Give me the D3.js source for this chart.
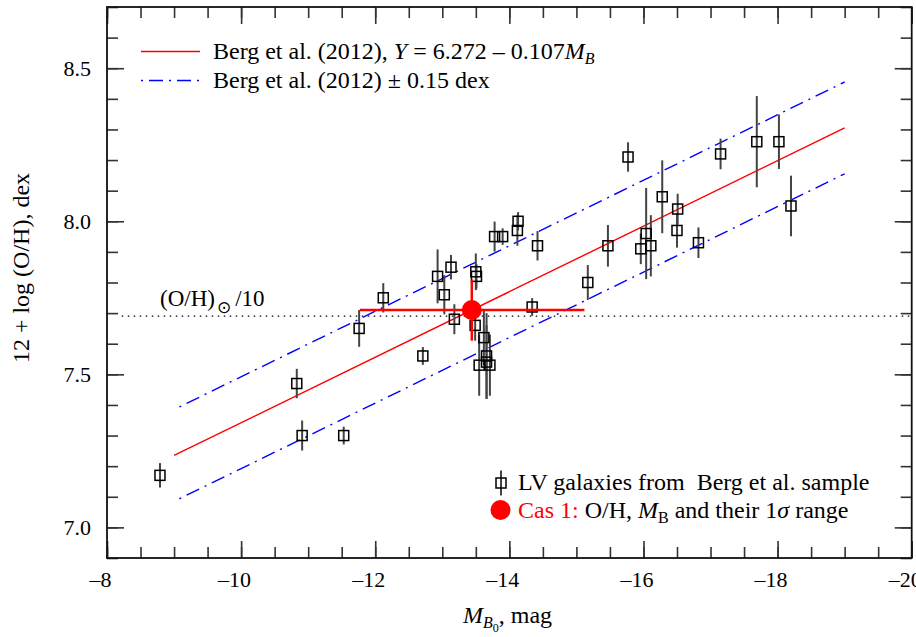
<!DOCTYPE html>
<html>
<head>
<meta charset="utf-8">
<script src="https://cdn.jsdelivr.net/npm/d3@7"></script>
<style>
  html, body { margin: 0; padding: 0; background: #fff; }
  svg { display: block; }
</style>
</head>
<body>
<svg id="chart" width="916" height="637"></svg>
<script>
// ---------------- data ----------------
const galM   = [-8.79, -10.83, -10.91, -11.53, -11.76, -12.12, -12.71, -12.93, -13.03, -13.13, -13.18,
                -13.50, -13.51, -13.49, -13.62, -13.55, -13.66, -13.66, -13.71, -13.78, -13.90,
                -14.13, -14.12, -14.34, -14.42, -15.17, -15.47, -15.77, -15.96, -16.04, -16.11,
                -16.28, -16.51, -16.50, -16.82, -17.15, -17.69, -18.02, -18.20];
const galOH  = [7.17, 7.47, 7.30, 7.30, 7.65, 7.75, 7.56, 7.82, 7.76, 7.85, 7.68,
                7.835, 7.82, 7.66, 7.62, 7.53, 7.56, 7.54, 7.53, 7.95, 7.95,
                8.00, 7.97, 7.72, 7.92, 7.80, 7.92, 8.21, 7.91, 7.96, 7.92,
                8.08, 8.04, 7.97, 7.93, 8.22, 8.26, 8.26, 8.05];
const galErr = [0.04, 0.048, 0.049, 0.029, 0.06, 0.048, 0.029, 0.088, 0.064, 0.04, 0.049,
                0.06, 0.04, 0.05, 0.09, 0.10, 0.14, 0.12, 0.10, 0.049, 0.027,
                0.03, 0.05, 0.029, 0.048, 0.057, 0.068, 0.048, 0.05, 0.149, 0.10,
                0.119, 0.05, 0.056, 0.05, 0.05, 0.149, 0.089, 0.099];

const casM = -13.44, casOH = 7.71;
const casMRange  = [-11.77, -15.12];
const casOHRange = [7.61, 7.81];

const fitA = 6.272, fitB = -0.107;      // Y = 6.272 - 0.107 M_B
const fitRange  = [-9.0, -19.0];
const bandRange = [-9.08, -19.0];
const bandDex = 0.15;
const solarTenth = 7.69;
const solarRange = [-8.22, -20];

const xMajor = [-8, -10, -12, -14, -16, -18, -20];
const yMajor = [7.0, 7.5, 8.0, 8.5];

// ---------------- layout ----------------
const SERIF = '"Liberation Serif", "Times New Roman", serif';
const L = 107, R = 911.7, T = 7, B = 558;
const svg = d3.select("#chart");
const x = d3.scaleLinear().domain([-8, -20]).range([L, R]);
const y = d3.scaleLinear().domain([6.9, 8.7]).range([B, T]);

const xMinor = d3.range(-8, -20.01, -0.5);
const yMinor = d3.range(6.9, 8.71, 0.1).map(v => +v.toFixed(2));
const fmtX = d => (d < 0 ? "\u2013" : "") + Math.abs(d);
const fmtY = d3.format(".1f");

function styleAxis(g) {
  g.attr("font-family", SERIF);
  g.select(".domain").remove();
  g.selectAll(".tick line").attr("stroke", "#333").attr("stroke-width", 1.6);
}
function txt(sel, size) {
  return sel.style("font-family", SERIF).style("font-size", size + "px").style("fill", "#000");
}

// minor ticks (all four sides, inward)
svg.append("g").attr("transform", `translate(0,${B})`)
  .call(d3.axisBottom(x).tickValues(xMinor).tickSize(-11).tickFormat("")).call(styleAxis);
svg.append("g").attr("transform", `translate(0,${T})`)
  .call(d3.axisTop(x).tickValues(xMinor).tickSize(-11).tickFormat("")).call(styleAxis);
svg.append("g").attr("transform", `translate(${L},0)`)
  .call(d3.axisLeft(y).tickValues(yMinor).tickSize(-11).tickFormat("")).call(styleAxis);
svg.append("g").attr("transform", `translate(${R},0)`)
  .call(d3.axisRight(y).tickValues(yMinor).tickSize(-11).tickFormat("")).call(styleAxis);

// major ticks
const xb = svg.append("g").attr("transform", `translate(0,${B})`)
  .call(d3.axisBottom(x).tickValues(xMajor).tickSize(-17).tickFormat(fmtX)).call(styleAxis);
txt(xb.selectAll(".tick text").attr("y", 28.5).attr("dy", null).attr("dx", -7), 22);
svg.append("g").attr("transform", `translate(0,${T})`)
  .call(d3.axisTop(x).tickValues(xMajor).tickSize(-17).tickFormat("")).call(styleAxis);
const yl = svg.append("g").attr("transform", `translate(${L},0)`)
  .call(d3.axisLeft(y).tickValues(yMajor).tickSize(-17).tickFormat(fmtY)).call(styleAxis);
txt(yl.selectAll(".tick text").attr("x", -16).attr("dy", 7.5), 22);
svg.append("g").attr("transform", `translate(${R},0)`)
  .call(d3.axisRight(y).tickValues(yMajor).tickSize(-17).tickFormat("")).call(styleAxis);

// frame
svg.append("rect").attr("x", L).attr("y", T).attr("width", R - L).attr("height", B - T)
  .attr("fill", "none").attr("stroke", "#111").attr("stroke-width", 1.8);

// solar/10 dotted line
svg.append("line")
  .attr("x1", x(solarRange[0])).attr("x2", x(solarRange[1]))
  .attr("y1", y(solarTenth)).attr("y2", y(solarTenth))
  .attr("stroke", "#000").attr("stroke-width", 1.4).attr("stroke-dasharray", "1.5,4.5");
const sl = txt(svg.append("text").attr("x", 160).attr("y", 306), 23);
sl.append("tspan").text("(O/H)");
sl.append("tspan").attr("dy", 7).attr("dx", 2).style("font-size", "17px")
  .style("font-family", "DejaVu Sans, sans-serif").text("\u2299");
sl.append("tspan").attr("dy", -7).attr("dx", 4).text("/10");

// fit lines
const fit = m => fitA + fitB * m;
const line = d3.line().x(d => x(d[0])).y(d => y(d[1]));
svg.append("path").datum(fitRange.map(m => [m, fit(m)]))
  .attr("d", line).attr("fill", "none").attr("stroke", "#ff0000").attr("stroke-width", 1.4);
[bandDex, -bandDex].forEach(off => {
  svg.append("path").datum(bandRange.map(m => [m, fit(m) + off]))
    .attr("d", line).attr("fill", "none").attr("stroke", "#0000ff").attr("stroke-width", 1.4)
    .attr("stroke-dasharray", "2,6,14,6");
});

// galaxies
const gal = galM.map((m, i) => ({ m, oh: galOH[i], e: galErr[i] }));
const gg = svg.append("g");
gg.selectAll("line.err").data(gal).join("line").attr("class", "err")
  .attr("x1", d => x(d.m)).attr("x2", d => x(d.m))
  .attr("y1", d => y(d.oh - d.e)).attr("y2", d => y(d.oh + d.e))
  .attr("stroke", "#444").attr("stroke-width", 2);
gg.selectAll("rect").data(gal).join("rect")
  .attr("x", d => x(d.m) - 5).attr("y", d => y(d.oh) - 5)
  .attr("width", 10).attr("height", 10)
  .attr("fill", "none").attr("stroke", "#000").attr("stroke-width", 1.5);

// Cas 1
svg.append("line")
  .attr("x1", x(casMRange[0])).attr("x2", x(casMRange[1]))
  .attr("y1", y(casOH)).attr("y2", y(casOH))
  .attr("stroke", "#ff0000").attr("stroke-width", 2.5);
svg.append("line")
  .attr("x1", x(casM)).attr("x2", x(casM))
  .attr("y1", y(casOHRange[0])).attr("y2", y(casOHRange[1]))
  .attr("stroke", "#ff0000").attr("stroke-width", 2.5);
svg.append("circle").attr("cx", x(casM)).attr("cy", y(casOH)).attr("r", 10).attr("fill", "#ff0000");

// top legend
svg.append("line").attr("x1", 141).attr("x2", 200).attr("y1", 51.5).attr("y2", 51.5)
  .attr("stroke", "#ff0000").attr("stroke-width", 1.4);
svg.append("line").attr("x1", 141).attr("x2", 200).attr("y1", 80.5).attr("y2", 80.5)
  .attr("stroke", "#0000ff").attr("stroke-width", 1.4).attr("stroke-dasharray", "2,6,14,6");
const t1 = txt(svg.append("text").attr("x", 213).attr("y", 59), 24);
t1.append("tspan").text("Berg et al. (2012), ");
t1.append("tspan").style("font-style", "italic").text("Y");
t1.append("tspan").text(" = 6.272 \u2013 0.107");
t1.append("tspan").style("font-style", "italic").text("M");
t1.append("tspan").style("font-style", "italic").style("font-size", "16px").attr("dy", 5).text("B");
txt(svg.append("text").attr("x", 213).attr("y", 88), 24)
  .text("Berg et al. (2012) \u00b1 0.15 dex");

// bottom legend
svg.append("line").attr("x1", 501).attr("x2", 501).attr("y1", 470.5).attr("y2", 495.5)
  .attr("stroke", "#444").attr("stroke-width", 2);
svg.append("rect").attr("x", 496).attr("y", 478).attr("width", 10).attr("height", 10)
  .attr("fill", "none").attr("stroke", "#000").attr("stroke-width", 1.5);
txt(svg.append("text").attr("x", 518).attr("y", 490), 24)
  .text("LV galaxies from\u00a0 Berg et al. sample");
svg.append("circle").attr("cx", 500.5).attr("cy", 510).attr("r", 10).attr("fill", "#ff0000");
const t2 = txt(svg.append("text").attr("x", 518).attr("y", 518), 24);
t2.append("tspan").style("fill", "#ff0000").text("Cas 1:");
t2.append("tspan").text(" O/H, ");
t2.append("tspan").style("font-style", "italic").text("M");
t2.append("tspan").style("font-size", "16px").attr("dy", 5).text("B");
t2.append("tspan").attr("dy", -5).text(" and their 1");
t2.append("tspan").style("font-style", "italic").text("\u03c3");
t2.append("tspan").text(" range");

// axis titles
const xt = txt(svg.append("text").attr("x", 463).attr("y", 623), 24);
xt.append("tspan").style("font-style", "italic").text("M");
xt.append("tspan").style("font-style", "italic").style("font-size", "16px").attr("dy", 5).text("B");
xt.append("tspan").style("font-size", "12px").attr("dy", 4).text("0");
xt.append("tspan").attr("dy", -9).text(", mag");

txt(svg.append("text").attr("transform", "translate(29,268) rotate(-90)")
  .attr("text-anchor", "middle"), 24)
  .text("12 + log (O/H), dex");
</script>
</body>
</html>
